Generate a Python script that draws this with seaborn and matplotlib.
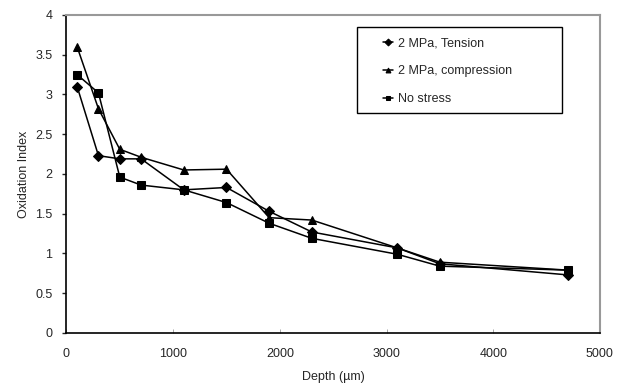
import pandas as pd
import matplotlib.pyplot as plt
import seaborn as sns
from matplotlib.patches import Rectangle

# depth values (um) and oxidation index for each stress condition
depth = [100, 300, 500, 700, 1100, 1500, 1900, 2300, 3100, 3500, 4700]
tension = [3.10, 2.23, 2.19, 2.19, 1.80, 1.83, 1.53, 1.27, 1.07, 0.87, 0.73]
compression = [3.60, 2.82, 2.31, 2.21, 2.05, 2.06, 1.45, 1.42, 1.07, 0.89, 0.79]
no_stress = [3.25, 3.02, 1.96, 1.86, 1.80, 1.64, 1.38, 1.19, 0.99, 0.84, 0.79]

series_names = ["2 MPa, Tension", "2 MPa, compression", "No stress"]
x_ticks = [0, 1000, 2000, 3000, 4000, 5000]
y_ticks = [0, 0.5, 1, 1.5, 2, 2.5, 3, 3.5, 4]

df = pd.DataFrame({
    "Depth": depth * 3,
    "Index": tension + compression + no_stress,
    "Series": [series_names[0]] * len(depth) + [series_names[1]] * len(depth) + [series_names[2]] * len(depth),
})

sns.set_style("white")
plt.rcParams["font.family"] = ["Liberation Sans", "DejaVu Sans"]

fig = plt.figure(figsize=(6.21, 3.84), dpi=100)
ax = fig.add_axes([0.107, 0.133, 0.859, 0.828])

sns.lineplot(data=df, x="Depth", y="Index", hue="Series", style="Series",
             palette=["black"] * 3, markers=["D", "^", "s"], dashes=False,
             markersize=5.5, linewidth=1.1, markeredgecolor="black", ax=ax)
# diamonds read larger than squares at the same size
ax.lines[0].set_markersize(4.6)

ax.set_xlim(0, 5000)
ax.set_ylim(0, 4)
ax.set_xticks(x_ticks)
ax.set_yticks(y_ticks)
ax.set_yticklabels(["0", "0.5", "1", "1.5", "2", "2.5", "3", "3.5", "4"])
ax.tick_params(axis="y", direction="out", length=3, width=1, left=True, labelsize=9, pad=7)
ax.tick_params(axis="x", direction="in", length=3, width=0.6, bottom=True, labelsize=9, pad=11,
               color="#999999")
ax.set_xlabel("Depth (\u00b5m)", fontsize=9, labelpad=8)
ax.set_ylabel("Oxidation Index", fontsize=9, labelpad=4)

for side in ["left", "bottom"]:
    ax.spines[side].set_color("black")
    ax.spines[side].set_linewidth(1.2)
for side in ["top", "right"]:
    ax.spines[side].set_color("#999999")
    ax.spines[side].set_linewidth(1.5)

# legend box drawn separately so the entries can sit inset from its left edge
ax.add_patch(Rectangle((0.545, 0.692), 0.384, 0.270, transform=ax.transAxes,
                       facecolor="white", edgecolor="black", linewidth=1.0, zorder=4))
leg = ax.legend(loc="upper left", bbox_to_anchor=(0.594, 0.930), frameon=False, fontsize=9,
                handlelength=0.8, handletextpad=0.35, borderpad=0, labelspacing=1.27,
                borderaxespad=0, title=None)
leg.set_zorder(5)
for h in leg.legend_handles:
    h.set_markersize(3.5)

fig.savefig("out.png", dpi=100)
